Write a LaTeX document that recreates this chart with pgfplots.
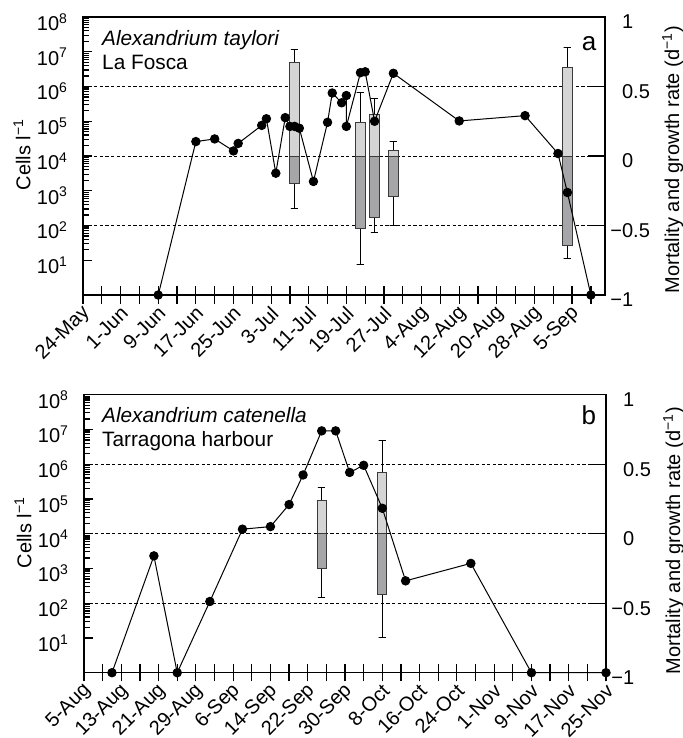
\documentclass[border=0pt]{standalone}
\usepackage{fontspec}
\setmainfont{Liberation Sans}
\usepackage{pgfplots}
\usepackage{pgfplotstable}
\pgfplotsset{compat=1.18}
\definecolor{boxlight}{HTML}{D5D5D5}
\definecolor{boxdark}{HTML}{A6A6A8}
\definecolor{boxline}{HTML}{3A3A3A}

\pgfplotstableread{
day cells
16 1
24 26000
28 31000
32 14000
33 23000
38 76000
39 118000
41 3200
43 127000
44 71000
45 71000
46 63000
49 1850
52 93000
53 650000
55 340000
56 550000
56 71000
59 2500000
60 2650000
62 100000
66 2400000
80 102000
94 145000
101 11800
103 890
108 1
}\topcells

\pgfplotstableread{
day cells
6 1
15 2300
20 1
27 112
34 13500
40 16000
44 69000
47 490000
51 9100000
54 9100000
57 580000
60 930000
64 54000
69 440
83 1400
96 1
112 1
}\botcells

% box: left, centre, right, cap left, cap right, lower whisker, lower end, upper end, upper whisker
\newcommand{\gbox}[9]{%
  \addplot[black, line width=0.5pt, mark=none] coordinates {(#2,#8) (#2,#9) (#4,#9) (#5,#9)};
  \addplot[black, line width=0.5pt, mark=none] coordinates {(#2,#7) (#2,#6) (#4,#6) (#5,#6)};
  \addplot[draw=boxline, fill=boxlight, line width=0.5pt, mark=none] coordinates {(#1,0) (#3,0) (#3,#8) (#1,#8)} --cycle;
  \addplot[draw=boxline, fill=boxdark, line width=0.5pt, mark=none] coordinates {(#1,#7) (#3,#7) (#3,0) (#1,0)} --cycle;
}

\pgfplotsset{
  base/.style={
    width=261pt, height=139pt, scale only axis, xmin=0,
    tick label style={font=\fontsize{10}{12}\selectfont},
    label style={font=\fontsize{10.5}{12}\selectfont},
    axis line style={line width=0.6pt, -},
    tick style={black, line width=0.6pt},
  },
  rightax/.style={base,
    axis x line*=bottom, axis y line*=right,
    ymin=-1, ymax=1, ytick={-1,-0.5,0,0.5,1},
    yticklabels={\llap{−}1,\llap{−}0.5,0,0.5,1},
    ymajorgrids, grid style={black, line width=0.5pt, dash pattern=on 1.6pt off 1.2pt},
    xtick align=center, ytick align=inside,
    major tick length=8.7pt, minor tick length=8.7pt,
    yticklabel style={anchor=west, xshift=5pt, yshift=-2.5pt},
    xticklabel style={xshift=2pt, anchor=east, rotate=45, inner sep=0pt},
    xticklabel shift=3pt,
    every axis y label/.style={at={(axis description cs:1.130,0.487)}, anchor=center, rotate=90},
  },
  leftax/.style={base,
    ymin=1, ymax=1e8,
    ytick={1e1,1e2,1e3,1e4,1e5,1e6,1e7,1e8},
    yticklabels={10\textsuperscript{1},10\textsuperscript{2},10\textsuperscript{3},10\textsuperscript{4},10\textsuperscript{5},10\textsuperscript{6},10\textsuperscript{7},10\textsuperscript{8}},
    xtick=\empty, ytick pos=left, ytick align=inside, major tick length=4.5pt,
    yticklabel style={anchor=east, xshift=-4pt, yshift=-2.5pt},
    clip=false,
    every axis y label/.style={at={(axis description cs:-0.117,0.505)}, anchor=center, rotate=90},
  },
}

\begin{document}
\begin{tikzpicture}
\path[use as bounding box] (-41.5pt,147.5pt) rectangle (300pt,-221.5pt);

% ---------- panel a ----------
\begin{axis}[rightax, at={(0pt,0pt)}, anchor=south west, xmax=111,
  xtick={0,8,...,104}, minor xtick={4,12,...,108},
  xticklabels={24-May,1-Jun,9-Jun,17-Jun,25-Jun,3-Jul,11-Jul,19-Jul,27-Jul,4-Aug,12-Aug,20-Aug,28-Aug,5-Sep},
  ylabel={Mortality and growth rate (d\textsuperscript{−1})}]
  \gbox{44}{45}{46}{44.2}{45.8}{-0.38}{-0.195}{0.67}{0.764}
  \gbox{58}{59}{60}{58.2}{59.8}{-0.78}{-0.52}{0.24}{0.454}
  \gbox{61}{62}{63}{61.2}{62.8}{-0.553}{-0.44}{0.30}{0.416}
  \gbox{65}{66}{67}{65.2}{66.8}{-0.50}{-0.29}{0.04}{0.106}
  \gbox{102}{103}{104}{102.2}{103.8}{-0.74}{-0.647}{0.635}{0.783}
\end{axis}
\begin{axis}[ymode=log, leftax, at={(0pt,0pt)}, anchor=south west, xmax=111,
  ylabel={Cells l\textsuperscript{−1}}]
  \addplot[black, line width=0.5pt, mark=*, mark size=2.1pt] table[x=day, y=cells] {\topcells};
  \node[anchor=base west, font=\fontsize{10.4}{12}\selectfont\itshape, inner sep=0pt] at (axis description cs:0.036,0.899) {Alexandrium taylori};
  \node[anchor=base west, font=\fontsize{10.4}{12}\selectfont, inner sep=0pt] at (axis description cs:0.036,0.8125) {La Fosca};
  \node[anchor=base east, font=\fontsize{13}{14}\selectfont, inner sep=0pt] at (axis description cs:0.984,0.878) {a};
\end{axis}

% ---------- panel b ----------
\begin{axis}[rightax, at={(0.5pt,-188.85pt)}, anchor=south west, xmax=112,
  xtick={0,8,...,112}, minor xtick={4,12,...,108},
  xticklabels={5-Aug,13-Aug,21-Aug,29-Aug,6-Sep,14-Sep,22-Sep,30-Sep,8-Oct,16-Oct,24-Oct,1-Nov,9-Nov,17-Nov,25-Nov},
  ylabel={Mortality and growth rate (d\textsuperscript{−1})},
  every axis y label/.style={at={(axis description cs:1.130,0.475)}, anchor=center, rotate=90}]
  \gbox{50}{51}{52}{50.2}{51.8}{-0.46}{-0.25}{0.238}{0.335}
  \gbox{63}{64}{65}{63.2}{64.8}{-0.75}{-0.44}{0.44}{0.668}
\end{axis}
\begin{axis}[ymode=log, leftax, at={(0.5pt,-188.85pt)}, anchor=south west, xmax=112,
  ylabel={Cells l\textsuperscript{−1}}]
  \addplot[black, line width=0.5pt, mark=*, mark size=2.1pt] table[x=day, y=cells] {\botcells};
  \node[anchor=base west, font=\fontsize{10.4}{12}\selectfont\itshape, inner sep=0pt] at (axis description cs:0.034,0.9017) {Alexandrium catenella};
  \node[anchor=base west, font=\fontsize{10.4}{12}\selectfont, inner sep=0pt] at (axis description cs:0.034,0.814) {Tarragona harbour};
  \node[anchor=base east, font=\fontsize{13}{14}\selectfont, inner sep=0pt] at (axis description cs:0.982,0.892) {b};
\end{axis}
\end{tikzpicture}
\end{document}
